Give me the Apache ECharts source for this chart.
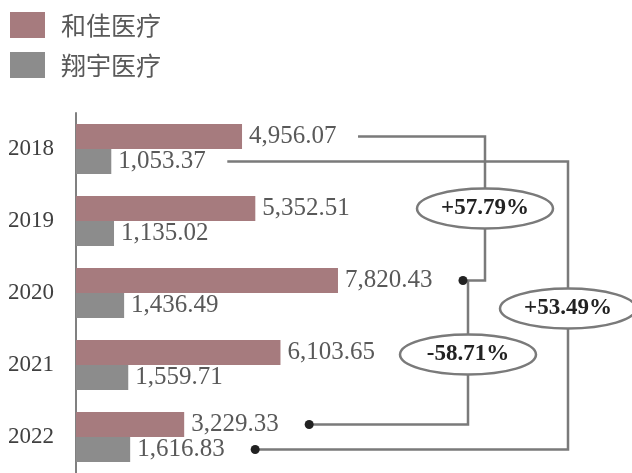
<!DOCTYPE html>
<html><head><meta charset="utf-8">
<script src="https://cdn.jsdelivr.net/npm/echarts@6/dist/echarts.min.js"></script>
<style>html,body{margin:0;padding:0;background:#fff}#c{width:632px;height:473px}</style>
</head><body><div id="c"></div>
<script>
const years = ['2018','2019','2020','2021','2022'];
const hejia = [4956.07, 5352.51, 7820.43, 6103.65, 3229.33];
const xiangyu = [1053.37, 1135.02, 1436.49, 1559.71, 1616.83];
const seriesNames = ['和佳医疗','翔宇医疗'];
const changeLabels = ['+57.79%', '+53.49%', '-58.71%'];

const SERIF = '"Liberation Serif", "DejaVu Serif", serif';
const chart = echarts.init(document.getElementById('c'));
const fmt = v => v.toLocaleString('en-US',{minimumFractionDigits:2, maximumFractionDigits:2});
const BW = 25;
const lbl = {show:true, position:'right', distance:7, fontFamily:SERIF, fontSize:25, color:'#595959', formatter:p=>fmt(p.value)};
chart.setOption({
  animation:false,
  legend:{orient:'vertical', left:5, top:7, itemWidth:35, itemHeight:26, itemGap:14,
    icon:'rect', textStyle:{fontSize:25, color:'#595959', fontFamily:'"Noto Sans CJK SC", sans-serif', padding:[0,0,0,11]}},
  grid:{left:76, top:113, width:536, height:365, containLabel:false},
  xAxis:{type:'value', min:0, max:16000, show:false, splitLine:{show:false}},
  yAxis:{type:'category', data:years, inverse:true,
    axisLine:{lineStyle:{color:'#808080', width:2}}, axisTick:{show:false},
    axisLabel:{fontFamily:SERIF, fontSize:23, color:'#404040', margin:22}},
  series:[
    {name:seriesNames[0], type:'bar', data:hejia, barWidth:BW, barGap:'0%', itemStyle:{color:'#a67b7e'}, label:lbl},
    {name:seriesNames[1], type:'bar', data:xiangyu, barWidth:BW, barGap:'0%', itemStyle:{color:'#8c8c8c'}, label:lbl}
  ]
});

function px(v){ return chart.convertToPixel({xAxisIndex:0}, v); }
function py(i, s){ return chart.convertToPixel({yAxisIndex:0}, years[i]) + (s===0 ? -BW/2 : BW/2); }
const vals = [hejia, xiangyu];
function startX(i,s){ return px(vals[s][i]) + 116; }
function endX(i,s){ return px(vals[s][i]) + 125; }

const LC = '#7a7a7a';
const els = [];
function addPath(pts, dot){
  els.push({type:'polyline', shape:{points:pts}, style:{stroke:LC, lineWidth:2.5, fill:null}, z:10});
  if (dot) els.push({type:'circle', shape:{cx:dot[0], cy:dot[1], r:4.5}, style:{fill:'#222'}, z:12});
}
function addOval(cx, cy, text){
  els.push({type:'ellipse', shape:{cx:cx, cy:cy, rx:68, ry:20}, style:{fill:'#fff', stroke:LC, lineWidth:2.5}, z:20});
  els.push({type:'text', x:cx, y:cy, style:{text:text, fill:'#222', font:'bold 23px '+SERIF, align:'center', verticalAlign:'middle'}, z:21});
}
// +57.79%: 2018 hejia -> 2020 hejia
let xa = 485, y1 = py(0,0), y2 = py(2,0);
addPath([[startX(0,0), y1],[xa, y1],[xa, y2],[endX(2,0), y2]], [endX(2,0), y2]);
// -58.71%: 2020 hejia -> 2022 hejia
let xc = 468, y3 = py(4,0);
addPath([[xc, y2],[xc, y3],[endX(4,0), y3]], [endX(4,0), y3]);
// +53.49%: 2018 xiangyu -> 2022 xiangyu
let xb = 568, g1 = py(0,1), g2 = py(4,1);
addPath([[startX(0,1), g1],[xb, g1],[xb, g2],[endX(4,1), g2]], [endX(4,1), g2]);
addOval(xa, (y1+y2)/2, changeLabels[0]);
addOval(xb, (g1+g2)/2 + 3, changeLabels[1]);
addOval(xc, (y2+y3)/2 + 2, changeLabels[2]);
chart.setOption({graphic:{elements:els}});
</script></body></html>
